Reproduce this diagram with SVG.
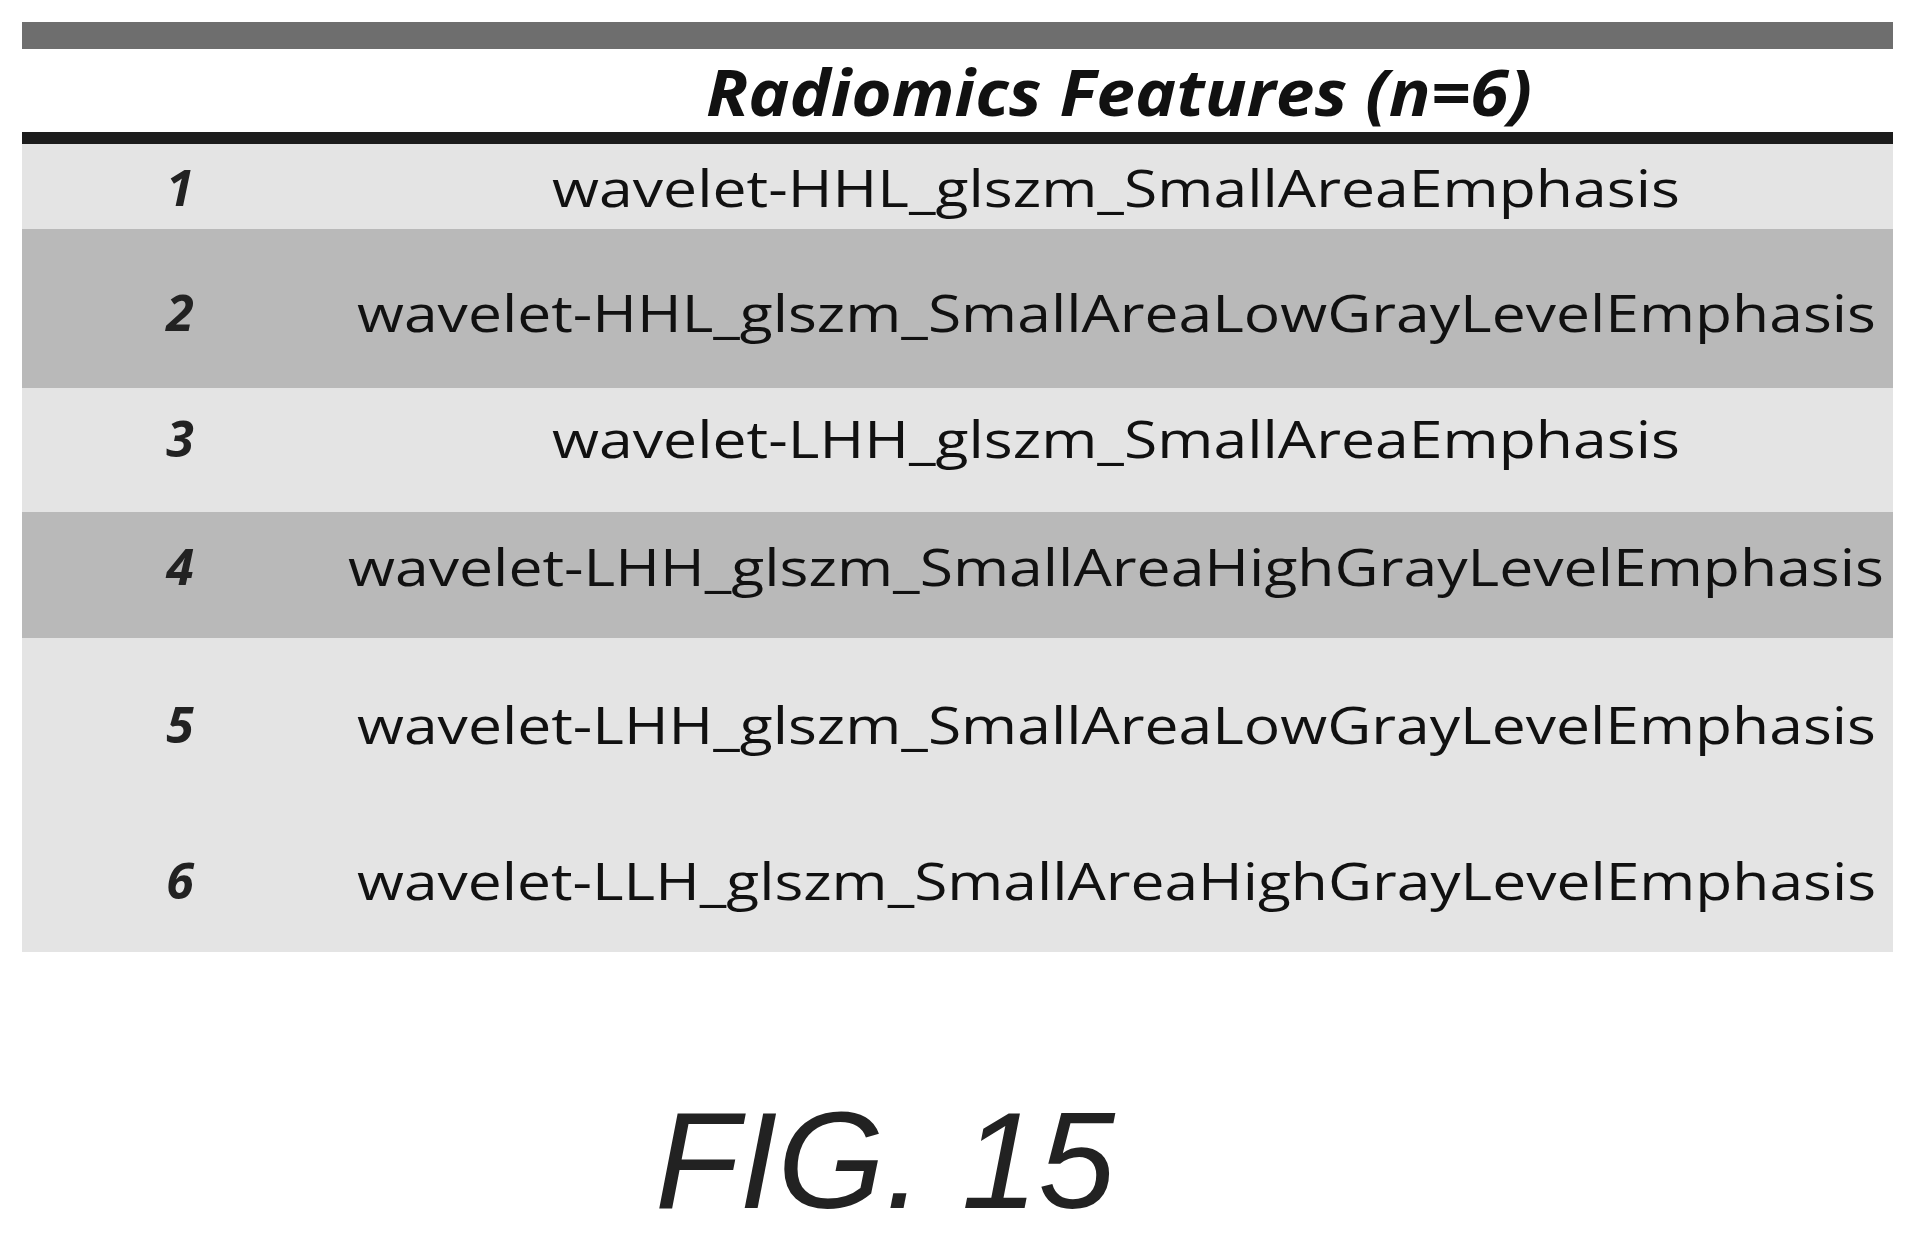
<svg xmlns="http://www.w3.org/2000/svg" width="1913" height="1245" viewBox="0 0 1913 1245">
<style>
.f{font-family:"Open Sans","Liberation Sans",sans-serif;font-size:52px;fill:#111}
.n{font-family:"Open Sans","Liberation Sans",sans-serif;font-size:50px;font-weight:bold;font-style:italic;fill:#222;text-anchor:middle}
.lt{fill:#e4e4e4}.dk{fill:#b9b9b9}
</style>
<rect width="1913" height="1245" fill="#fff"/>
<rect x="22" y="22" width="1871" height="27" fill="#6e6e6e"/>
<text x="706" y="116" textLength="826" lengthAdjust="spacingAndGlyphs" font-family="'Open Sans','Liberation Sans',sans-serif" font-size="64" font-weight="bold" font-style="italic" fill="#111">Radiomics Features (n=6)</text>
<rect x="22" y="132" width="1871" height="12" fill="#1c1c1c"/>
<g id="row1"><rect class="lt" x="22" y="144" width="1871" height="85"/><text class="n" x="180" y="206">1</text><text class="f" x="552" y="207" textLength="1128" lengthAdjust="spacingAndGlyphs">wavelet-HHL_glszm_SmallAreaEmphasis</text></g>
<g id="row2"><rect class="dk" x="22" y="229" width="1871" height="159"/><text class="n" x="180" y="331">2</text><text class="f" x="357" y="332" textLength="1519" lengthAdjust="spacingAndGlyphs">wavelet-HHL_glszm_SmallAreaLowGrayLevelEmphasis</text></g>
<g id="row3"><rect class="lt" x="22" y="388" width="1871" height="124"/><text class="n" x="180" y="457">3</text><text class="f" x="552" y="458" textLength="1128" lengthAdjust="spacingAndGlyphs">wavelet-LHH_glszm_SmallAreaEmphasis</text></g>
<g id="row4"><rect class="dk" x="22" y="512" width="1871" height="126"/><text class="n" x="180" y="585">4</text><text class="f" x="348" y="586" textLength="1536" lengthAdjust="spacingAndGlyphs">wavelet-LHH_glszm_SmallAreaHighGrayLevelEmphasis</text></g>
<g id="row5"><rect class="lt" x="22" y="638" width="1871" height="157"/><text class="n" x="180" y="743">5</text><text class="f" x="357" y="744" textLength="1519" lengthAdjust="spacingAndGlyphs">wavelet-LHH_glszm_SmallAreaLowGrayLevelEmphasis</text></g>
<g id="row6"><rect class="lt" x="22" y="795" width="1871" height="157"/><text class="n" x="180" y="899">6</text><text class="f" x="357" y="900" textLength="1519" lengthAdjust="spacingAndGlyphs">wavelet-LLH_glszm_SmallAreaHighGrayLevelEmphasis</text></g>
<text x="885" y="1208" text-anchor="middle" font-family="'Liberation Sans',Arial,sans-serif" font-size="138" font-style="italic" fill="#222">FIG. 15</text>
</svg>
